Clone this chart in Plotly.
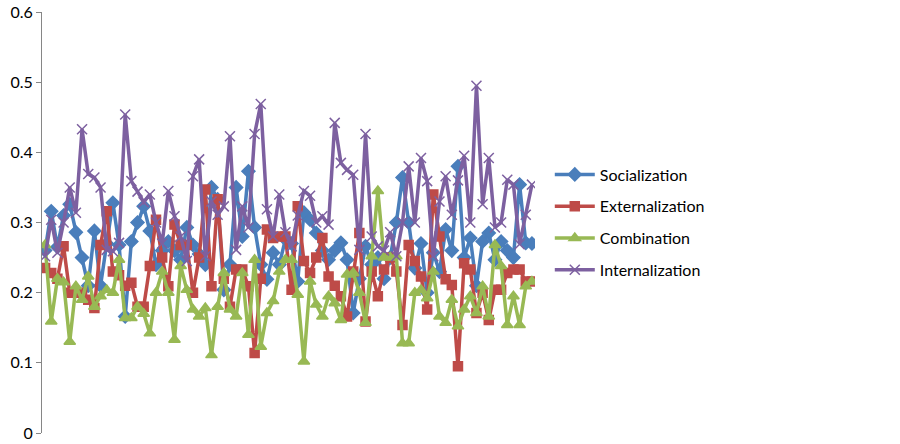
import plotly.graph_objects as go

# categories: 80 observations
idx = list(range(80))

socialization = [
    0.26, 0.316, 0.265, 0.31, 0.326, 0.286, 0.25, 0.21, 0.288, 0.21,
    0.27, 0.328, 0.268, 0.166, 0.273, 0.30, 0.323, 0.288, 0.24, 0.26,
    0.273, 0.26, 0.247, 0.293, 0.268, 0.255, 0.24, 0.35, 0.333, 0.204,
    0.24, 0.35, 0.28, 0.373, 0.293, 0.24, 0.219, 0.257, 0.24, 0.276,
    0.27, 0.216, 0.314, 0.304, 0.285, 0.26, 0.247, 0.26, 0.271, 0.247,
    0.171, 0.22, 0.266, 0.24, 0.25, 0.22, 0.25, 0.30, 0.364, 0.30,
    0.235, 0.27, 0.2, 0.257, 0.23, 0.29, 0.26, 0.38, 0.25, 0.278,
    0.21, 0.273, 0.285, 0.247, 0.273, 0.26, 0.25, 0.354, 0.271, 0.27,
]
externalization = [
    0.235, 0.228, 0.22, 0.266, 0.2, 0.2, 0.2, 0.19, 0.178, 0.268,
    0.316, 0.23, 0.225, 0.21, 0.214, 0.18, 0.18, 0.238, 0.304, 0.25,
    0.209, 0.297, 0.268, 0.268, 0.2, 0.25, 0.347, 0.209, 0.333, 0.22,
    0.18, 0.233, 0.233, 0.209, 0.114, 0.22, 0.29, 0.278, 0.28, 0.28,
    0.204, 0.323, 0.245, 0.228, 0.25, 0.278, 0.223, 0.21, 0.195, 0.166,
    0.23, 0.285, 0.159, 0.23, 0.195, 0.233, 0.25, 0.23, 0.154, 0.268,
    0.245, 0.223, 0.176, 0.34, 0.28, 0.219, 0.211, 0.095, 0.242, 0.233,
    0.171, 0.2, 0.161, 0.204, 0.204, 0.228, 0.233, 0.233, 0.216, 0.216,
]
combination = [
    0.268, 0.159, 0.22, 0.215, 0.13, 0.209, 0.19, 0.223, 0.18, 0.195,
    0.204, 0.2, 0.247, 0.164, 0.164, 0.18, 0.17, 0.142, 0.2, 0.23,
    0.2, 0.133, 0.238, 0.204, 0.176, 0.166, 0.178, 0.111, 0.18, 0.228,
    0.176, 0.166, 0.228, 0.14, 0.247, 0.123, 0.171, 0.188, 0.23, 0.247,
    0.247, 0.197, 0.102, 0.216, 0.183, 0.166, 0.195, 0.185, 0.161, 0.226,
    0.228, 0.2, 0.157, 0.252, 0.345, 0.25, 0.25, 0.252, 0.128, 0.128,
    0.2, 0.204, 0.192, 0.23, 0.166, 0.157, 0.19, 0.152, 0.176, 0.195,
    0.171, 0.209, 0.166, 0.268, 0.238, 0.154, 0.195, 0.154, 0.209, 0.216,
]
internalization = [
    0.252, 0.304, 0.257, 0.30, 0.35, 0.314, 0.433, 0.369, 0.364, 0.35,
    0.261, 0.259, 0.271, 0.454, 0.359, 0.344, 0.329, 0.34, 0.30, 0.27,
    0.345, 0.309, 0.28, 0.245, 0.366, 0.39, 0.252, 0.33, 0.311, 0.323,
    0.423, 0.261, 0.323, 0.293, 0.426, 0.469, 0.319, 0.28, 0.34, 0.286,
    0.266, 0.31, 0.345, 0.338, 0.30, 0.309, 0.297, 0.442, 0.385, 0.375,
    0.368, 0.261, 0.426, 0.28, 0.266, 0.26, 0.286, 0.252, 0.30, 0.38,
    0.30, 0.392, 0.359, 0.252, 0.33, 0.366, 0.311, 0.36, 0.395, 0.30,
    0.495, 0.326, 0.392, 0.293, 0.30, 0.361, 0.354, 0.269, 0.311, 0.354,
]

y_ticks = [0, 0.1, 0.2, 0.3, 0.4, 0.5, 0.6]
y_tick_text = ["0", "0.1", "0.2", "0.3", "0.4", "0.5", "0.6"]

series = [
    ("Socialization", socialization, "#4A7EBB", "diamond", 10),
    ("Externalization", externalization, "#BE4B48", "square", 9),
    ("Combination", combination, "#98B954", "triangle-up", 10),
    ("Internalization", internalization, "#7D60A0", "x-thin-open", 10),
]

fig = go.Figure()
for name, vals, color, symbol, size in series:
    fig.add_trace(go.Scatter(
        x=idx, y=vals, name=name, mode="lines+markers", legendgroup=name,
        line=dict(color=color, width=3.5),
        marker=dict(symbol=symbol, size=size, color=color,
                    line=dict(color=color, width=1.5)),
    ))

fig.update_layout(
    width=900, height=444,
    margin=dict(l=42, r=365, t=12, b=11),
    plot_bgcolor="white", paper_bgcolor="white",
    font=dict(family="Lato, Liberation Sans, sans-serif", size=16, color="black"),
    showlegend=True,
    legend=dict(x=1.03, y=0.5, yanchor="middle", xanchor="left",
                font=dict(size=16), tracegroupgap=8, itemwidth=40),
)
fig.update_xaxes(range=[-0.5, 79.5], showticklabels=False, showgrid=False,
                 zeroline=False, showline=False, ticks="")
fig.update_yaxes(range=[0, 0.6], tickvals=y_ticks, ticktext=y_tick_text,
                 showgrid=False, zeroline=False, automargin=False,
                 showline=True, linecolor="#868686", linewidth=1,
                 ticks="outside", ticklen=5, tickcolor="#868686")

# drop the default body margin so the figure sits at the window's corner
fig.write_html("out.html", config={"displayModeBar": False},
               post_script="document.body.style.margin='0';")
